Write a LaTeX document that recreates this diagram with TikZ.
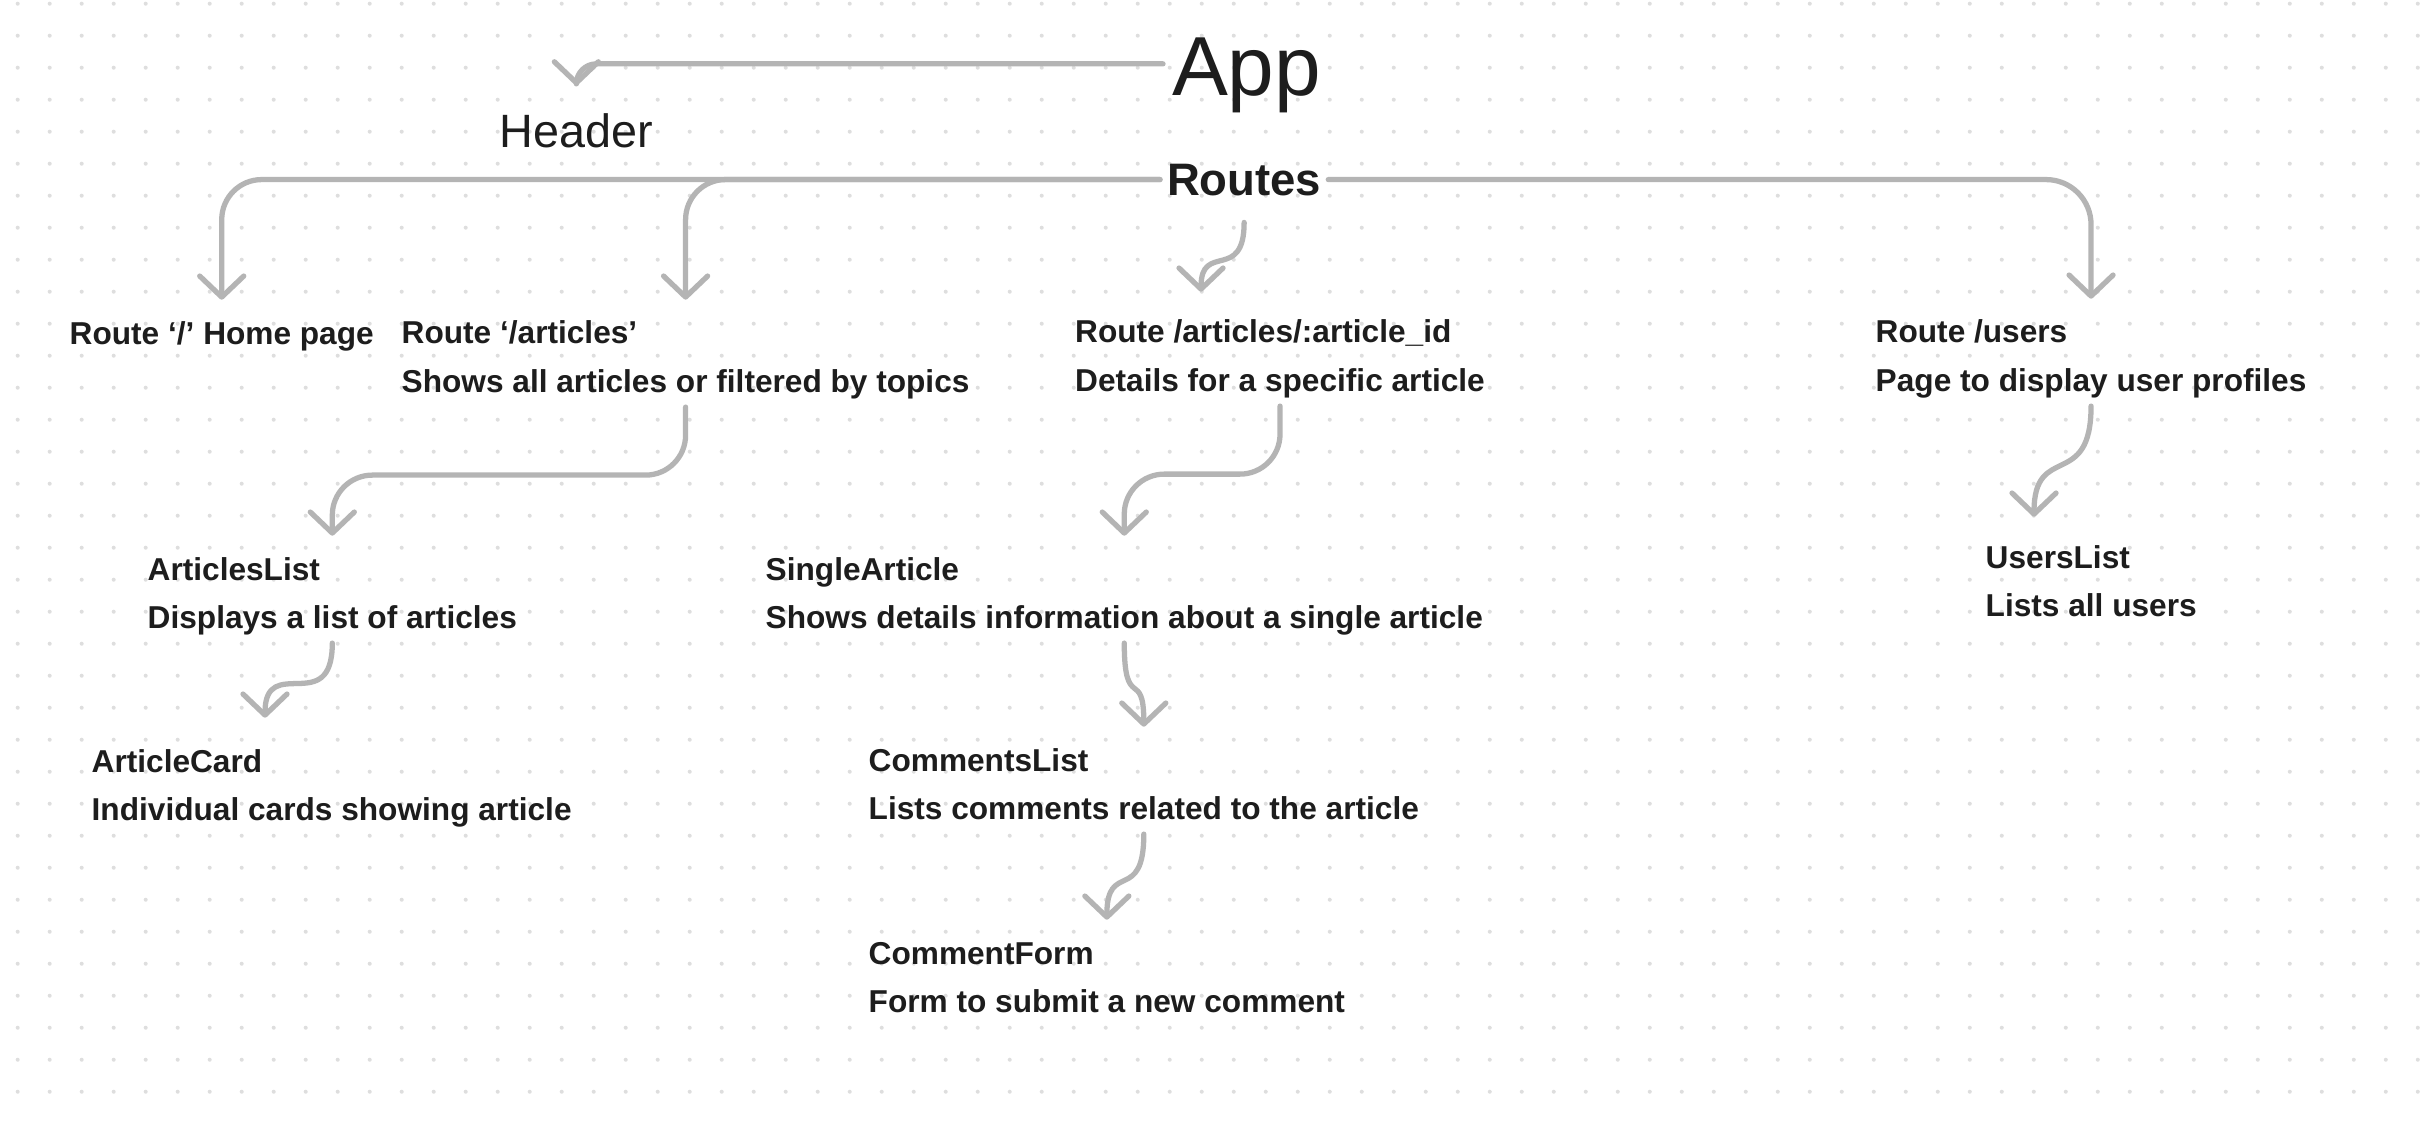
\documentclass[tikz,border=0pt]{standalone}
\usepackage{fontspec}
\setmainfont{Liberation Sans}
\usetikzlibrary{arrows.meta,calc}

\definecolor{ink}{HTML}{1D1D1D}
\definecolor{wire}{HTML}{B4B4B4}
\definecolor{griddot}{HTML}{DEDEDE}

\tikzset{
  title/.style={anchor=base west, inner sep=0pt, text=ink},
  comp/.style={anchor=base west, inner sep=0pt, align=left, text=ink,
    font=\fontsize{9}{13.66}\selectfont\bfseries},
  link/.style={draw=wire, line width=1.5pt, line cap=round, line join=round,
    -{Straight Barb[length=2.1mm,width=4.4mm,round]}, shorten >=1mm},
}

\begin{document}
\begin{tikzpicture}
\useasboundingbox (0,0) rectangle (24.2,-11.2);
\fill[white] (0,0) rectangle (24.2,-11.2);
% dotted canvas
\foreach \i in {0,...,75}{
  \foreach \j in {0,...,34}{
    \fill[griddot] ({0.177+0.32*\i},{-0.037-0.32*\j}) circle (0.02);
  }
}

% top level
\node[title, outer sep=0.9mm, font=\fontsize{23.85}{28}\selectfont] (app) at (11.63,-0.95) {App};
\node[title, font=\fontsize{13.3}{15}\selectfont] (header) at (4.99,-1.47) {Header};
\node[title, outer sep=0.7mm, font=\fontsize{12.95}{15}\selectfont\bfseries] (routes) at (11.60,-1.95) {Routes};

% routes (base = last line)
\node[comp] (home) at (0.69,-3.44) {\strut Route `/' Home page\strut};
\node[comp] (articles) at (4.01,-3.92) {\strut Route `/articles'\\Shows all articles or filtered by topics\strut};
\node[comp] (artid) at (10.745,-3.91) {\strut Route /articles/:article\_id\\Details for a specific article\strut};
\node[comp] (users) at (18.75,-3.91) {\strut Route /users\\Page to display user profiles\strut};

% components
\node[comp] (alist) at (1.47,-6.28) {\strut ArticlesList\\Displays a list of articles\strut};
\node[comp] (single) at (7.65,-6.28) {\strut SingleArticle\\Shows details information about a single article\strut};
\node[comp] (usersl) at (19.85,-6.16) {\strut UsersList\\Lists all users\strut};
\node[comp] (acard) at (0.91,-8.20) {\strut ArticleCard\\Individual cards showing article\strut};
\node[comp] (comments) at (8.68,-8.19) {\strut CommentsList\\Lists comments related to the article\strut};
\node[comp] (form) at (8.68,-10.12) {\strut CommentForm\\Form to submit a new comment\strut};

% connectors
\draw[link, rounded corners=2mm] ([yshift=1.1mm]app.west) -| ([yshift=1.7mm]header.north);
\draw[link, rounded corners=4mm] (routes.west) -| (home.north);
\draw[link, rounded corners=4mm] (routes.west) -| (articles.north);
\draw[link, rounded corners=4.5mm] (routes.east) -| (users.north);
\draw[link] ([yshift=-2mm]routes.south) .. controls +(0,-0.6) and +(0,0.6) .. ([xshift=-7.9mm,yshift=0.7mm]artid.north);
\draw[link, rounded corners=4mm] (articles.south) -- ++(0,-0.68) -| (alist.north);
\draw[link, rounded corners=4mm] (artid.south) -- ++(0,-0.68) -| (single.north);
\draw[link] (alist.south) .. controls +(0,-0.75) and +(0,0.75) .. ([xshift=17.4mm,yshift=1mm]acard.north west);
\draw[link] (single.south) .. controls +(0,-0.7) and +(0,0.7) .. (comments.north);
\draw[link] (comments.south) .. controls +(0,-0.7) and +(0,0.7) .. (form.north);
\draw[link] (users.south) .. controls +(0,-0.85) and +(0,0.85) .. ([xshift=4.9mm,yshift=0.7mm]usersl.north west);
\end{tikzpicture}
\end{document}
